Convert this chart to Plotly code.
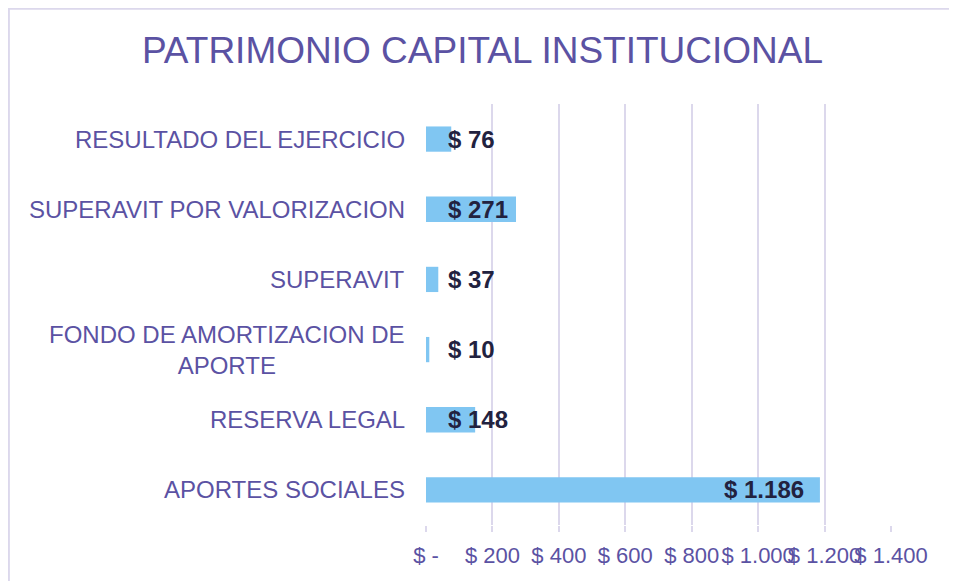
import plotly.graph_objects as go

# data, bottom to top as drawn
categories = [
    "APORTES SOCIALES",
    "RESERVA LEGAL",
    "FONDO DE AMORTIZACION DE<br>APORTE",
    "SUPERAVIT",
    "SUPERAVIT POR VALORIZACION",
    "RESULTADO DEL EJERCICIO",
]
values = [1186, 148, 10, 37, 271, 76]
value_labels = ["$ 1.186", "$ 148", "$ 10", "$ 37", "$ 271", "$ 76"]
tick_vals = [0, 200, 400, 600, 800, 1000, 1200, 1400]
tick_text = ["$ -", "$ 200", "$ 400", "$ 600", "$ 800", "$ 1.000", "$ 1.200", "$ 1.400"]

PURPLE = "#5b52a3"
DARK = "#22223f"
GRID = "#dcd8ec"
FONT = "Liberation Sans, Arial, sans-serif"

fig = go.Figure(go.Bar(
    x=values,
    y=categories,
    orientation="h",
    marker=dict(color="#80c6f2", line=dict(width=0)),
    hoverinfo="skip",
))

# category labels (centered multi-line, like the original)
for cat in categories:
    fig.add_annotation(
        x=0, y=cat, xref="paper", yref="y", text=cat,
        xanchor="right", yanchor="middle", align="center", xshift=-19,
        showarrow=False, font=dict(family=FONT, size=24, color=PURPLE),
    )

# value labels
for cat, v, lab in zip(categories, values, value_labels):
    big = v > 400
    fig.add_annotation(
        x=v if big else 0, y=cat, text=lab,
        xanchor="right" if big else "left",
        xshift=-14 if big else 20,
        showarrow=False,
        font=dict(family=FONT, size=24, color=DARK, weight="bold"),
    )

fig.update_xaxes(
    range=[0, 1400], tickvals=tick_vals, ticktext=tick_text, tickangle=0,
    showgrid=True, gridcolor=GRID, gridwidth=2, zeroline=False,
    ticks="outside", ticklen=6, tickcolor=GRID, tickwidth=2,
    ticklabelstandoff=5,
    tickfont=dict(family=FONT, size=22, color=PURPLE),
    showline=False, fixedrange=True,
)
fig.update_yaxes(showticklabels=False, showgrid=False, zeroline=False, fixedrange=True)

# the page body adds an 8px offset, so the figure is 8px smaller
fig.update_layout(
    width=949, height=573,
    margin=dict(l=418, r=66, t=96, b=56),
    bargap=0.64,
    plot_bgcolor="white", paper_bgcolor="white",
    showlegend=False,
    title=dict(
        text="PATRIMONIO CAPITAL INSTITUCIONAL",
        x=0.5, xanchor="center", xref="container",
        y=1 - 42 / 573, yanchor="middle", yref="container",
        font=dict(family=FONT, size=37, color=PURPLE),
    ),
    # chart-area frame: only the left and top edges are visible in the crop
    shapes=[dict(
        type="path", xref="paper", yref="paper",
        path="M -0.897,-0.3 L -0.897,1.226 L 1.5,1.226",
        line=dict(color=GRID, width=2), layer="below",
    )],
)

fig.write_html("out.html")
